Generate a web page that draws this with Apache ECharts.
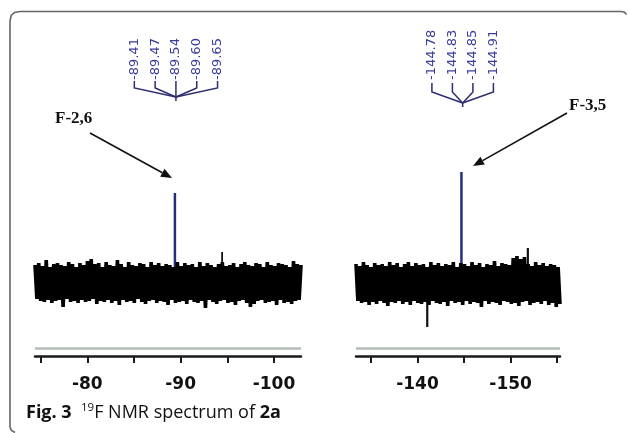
<!DOCTYPE html>
<html><head><meta charset="utf-8">
<script src="https://cdn.jsdelivr.net/npm/echarts@6/dist/echarts.min.js"></script>
<style>html,body{margin:0;padding:0;background:#fff}#c{width:629px;height:433px}</style>
</head><body><div id="c"></div>
<script>
// chemical-shift windows (ppm), left and right panels of the broken axis
const leftRange = [-74.4, -102.9];
const rightRange = [-133.4, -155.3];
// baseline noise (arbitrary intensity units)
const leftNoise = [
18,-16,20,-18,17,-19,23,-17,16,-20,19,-18,20,-17,18,-24,17,-16,21,-19,
19,-18,16,-20,20,-17,18,-19,22,-18,24,-16,19,-21,20,-18,16,-19,21,-17,
18,-20,17,-18,23,-22,19,-17,16,-19,21,-18,18,-20,17,-16,20,-19,19,-21,
16,-18,21,-17,18,-20,20,-18,17,-19,19,-22,18,-17,16,-20,21,-19,17,-18,
20,-21,18,-17,19,-19,16,-20,21,-18,17,-25,20,-17,18,-19,16,-21,19,-18,
21,-17,17,-20,18,-19,20,-22,16,-18,19,-17,21,-20,18,-24,17,-21,20,-18,
19,-17,16,-20,21,-19,18,-18,17,-22,20,-17,19,-20,18,-19,16,-21,22,-18,
19,-17,18];
const rightNoise = [
19,-18,17,-20,21,-19,18,-22,16,-19,20,-21,18,-18,19,-20,17,-23,21,-19,
18,-20,20,-18,16,-21,19,-19,21,-22,17,-18,20,-20,18,-21,19,-19,16,-22,
21,-18,18,-20,20,-21,17,-19,19,-23,18,-18,21,-20,16,-19,20,-22,19,-18,
17,-21,21,-19,18,-20,20,-24,16,-18,19,-21,18,-19,22,-20,17,-22,20,-18,
19,-19,18,-21,25,-20,27,-23,24,-19,26,-18,19,-22,17,-20,21,-19,18,-21,
20,-18,17,-22,19,-20,18,-24,16,-21];
// main signals [ppm, height]
const leftPeaks = [[-89.5, 90]];
const rightPeaks = [[-144.85, 111]];
// isolated noise spikes [ppm, height]
const leftSpikes = [[-94.3, 31]];
const rightSpikes = [[-140.9, -44], [-151.7, 35]];
// multiplet annotations
const leftShifts = ['-89.41', '-89.47', '-89.54', '-89.60', '-89.65'];
const rightShifts = ['-144.78', '-144.83', '-144.85', '-144.91'];
const peakNames = ['F-2,6', 'F-3,5'];
// axis ticks
const leftTicks = [-75, -80, -85, -90, -95, -100];
const leftTickLabels = [-80, -90, -100];
const rightTicks = [-135, -140, -145, -150, -155];
const rightTickLabels = [-140, -150];

function toXY(range, vals) {
  const n = vals.length;
  return vals.map((v, i) => [range[0] + (range[1] - range[0]) * i / (n - 1), v]);
}

const chart = echarts.init(document.getElementById('c'), null, {renderer: 'canvas'});

function xAxisCfg(idx, range, ticks, labels) {
  return {
    type: 'value', gridIndex: idx, inverse: true,
    min: Math.min(range[0], range[1]), max: Math.max(range[0], range[1]),
    axisLine: {show: true, onZero: false, lineStyle: {color: '#1a1a1a', width: 2.5}},
    axisTick: {show: true, length: 7, customValues: ticks, lineStyle: {color: '#1a1a1a', width: 2}},
    axisLabel: {show: true, customValues: labels, margin: 20, color: '#111',
      fontFamily: 'DejaVu Sans', fontWeight: 'bold', fontSize: 17},
    splitLine: {show: false}
  };
}
function yAxisCfg(idx) {
  return {type: 'value', gridIndex: idx, min: -73, max: 137, show: false};
}
const grayLine = {silent: true, symbol: 'none', label: {show: false},
  lineStyle: {color: '#b6bdb6', width: 2.5, type: 'solid'}, data: [{yAxis: -65}]};

chart.setOption({
  animation: false,
  grid: [
    {left: 35, width: 266, top: 146, height: 210, outerBoundsMode: 'none'},
    {left: 356, width: 204, top: 146, height: 210, outerBoundsMode: 'none'}
  ],
  xAxis: [xAxisCfg(0, leftRange, leftTicks, leftTickLabels), xAxisCfg(1, rightRange, rightTicks, rightTickLabels)],
  yAxis: [yAxisCfg(0), yAxisCfg(1)],
  series: [
    {type: 'bar', xAxisIndex: 0, yAxisIndex: 0, data: leftPeaks, barWidth: 2.5, itemStyle: {color: '#25307c'}, z: 1},
    {type: 'bar', xAxisIndex: 1, yAxisIndex: 1, data: rightPeaks, barWidth: 2.5, itemStyle: {color: '#25307c'}, z: 1},
    {type: 'bar', xAxisIndex: 0, yAxisIndex: 0, data: leftSpikes, barWidth: 1.8, itemStyle: {color: '#111'}, z: 1},
    {type: 'bar', xAxisIndex: 1, yAxisIndex: 1, data: rightSpikes, barWidth: 2.2, itemStyle: {color: '#111'}, z: 1},
    {type: 'line', xAxisIndex: 0, yAxisIndex: 0, data: toXY(leftRange, leftNoise), showSymbol: false,
      lineStyle: {color: '#000', width: 3.6, join: 'bevel'}, z: 3, markLine: grayLine},
    {type: 'line', xAxisIndex: 1, yAxisIndex: 1, data: toXY(rightRange, rightNoise), showSymbol: false,
      lineStyle: {color: '#000', width: 3.6, join: 'bevel'}, z: 3, markLine: grayLine}
  ]
});

// annotations
const g = [];
const labelColor = '#3a3c9c', bracketColor = '#2b2d6e';
function multiplet(axisIdx, ppm, shifts, spacing, yText, yV1, yV2, yJoin, yEnd) {
  const cx = chart.convertToPixel({xAxisIndex: axisIdx}, ppm);
  const n = shifts.length;
  shifts.forEach((s, i) => {
    const x = cx + (i - (n - 1) / 2) * spacing;
    g.push({type: 'text', x: x, y: yText, rotation: Math.PI / 2,
      style: {text: s, font: '13px "DejaVu Sans"', fill: labelColor, align: 'left', verticalAlign: 'middle'}});
    g.push({type: 'polyline', shape: {points: [[x, yV1], [x, yV2], [cx, yJoin]]},
      style: {stroke: bracketColor, lineWidth: 1.5, fill: null}});
  });
  g.push({type: 'line', shape: {x1: cx, y1: yJoin, x2: cx, y2: yEnd}, style: {stroke: bracketColor, lineWidth: 1.5}});
}
multiplet(0, leftPeaks[0][0], leftShifts, 20.8, 80, 81, 88, 97, 101);
multiplet(1, rightPeaks[0][0], rightShifts, 20.5, 80, 83, 92, 103, 107);

function arrow(x1, y1, x2, y2) {
  const dx = x2 - x1, dy = y2 - y1, L = Math.hypot(dx, dy);
  const ux = dx / L, uy = dy / L, hl = 11, hw = 4.5;
  const bx = x2 - ux * hl, by = y2 - uy * hl;
  g.push({type: 'line', shape: {x1: x1, y1: y1, x2: bx, y2: by}, style: {stroke: '#111', lineWidth: 1.6}});
  g.push({type: 'polygon', shape: {points: [[x2, y2], [bx - uy * hw, by + ux * hw], [bx + uy * hw, by - ux * hw]]},
    style: {fill: '#111'}});
}
arrow(90, 133, 172, 178);
arrow(567, 113, 473, 166);
g.push({type: 'text', x: 55, y: 119, style: {text: peakNames[0], font: 'bold 17px "Liberation Serif"', fill: '#111', verticalAlign: 'middle'}});
g.push({type: 'text', x: 569, y: 106, style: {text: peakNames[1], font: 'bold 17px "Liberation Serif"', fill: '#111', verticalAlign: 'middle'}});

// caption
g.push({type: 'text', x: 26, y: 413, style: {
  text: '{b|Fig. 3}  {s|19}{n|F NMR spectrum of }{b|2a}',
  fontFamily: 'Open Sans', fontSize: 18, fill: '#111', verticalAlign: 'middle',
  rich: {
    b: {fontFamily: 'Open Sans', fontWeight: 'bold', fontSize: 18, fill: '#111', lineHeight: 22},
    n: {fontFamily: 'Open Sans', fontSize: 18, fill: '#111', lineHeight: 22},
    s: {fontFamily: 'Open Sans', fontSize: 11.5, fill: '#111', verticalAlign: 'top', lineHeight: 12}
  }
}});
// frame
g.push({type: 'polyline', shape: {points: [[15, 432.5], [11.5, 430.5], [10, 427], [10, 21], [11.2, 15.5], [14.5, 12.5], [20, 11.5], [621, 11.5], [624.5, 12.2], [626.5, 14.5]]},
  style: {stroke: '#666', lineWidth: 1.6, fill: null}});

chart.setOption({graphic: g});
</script>
</body></html>
